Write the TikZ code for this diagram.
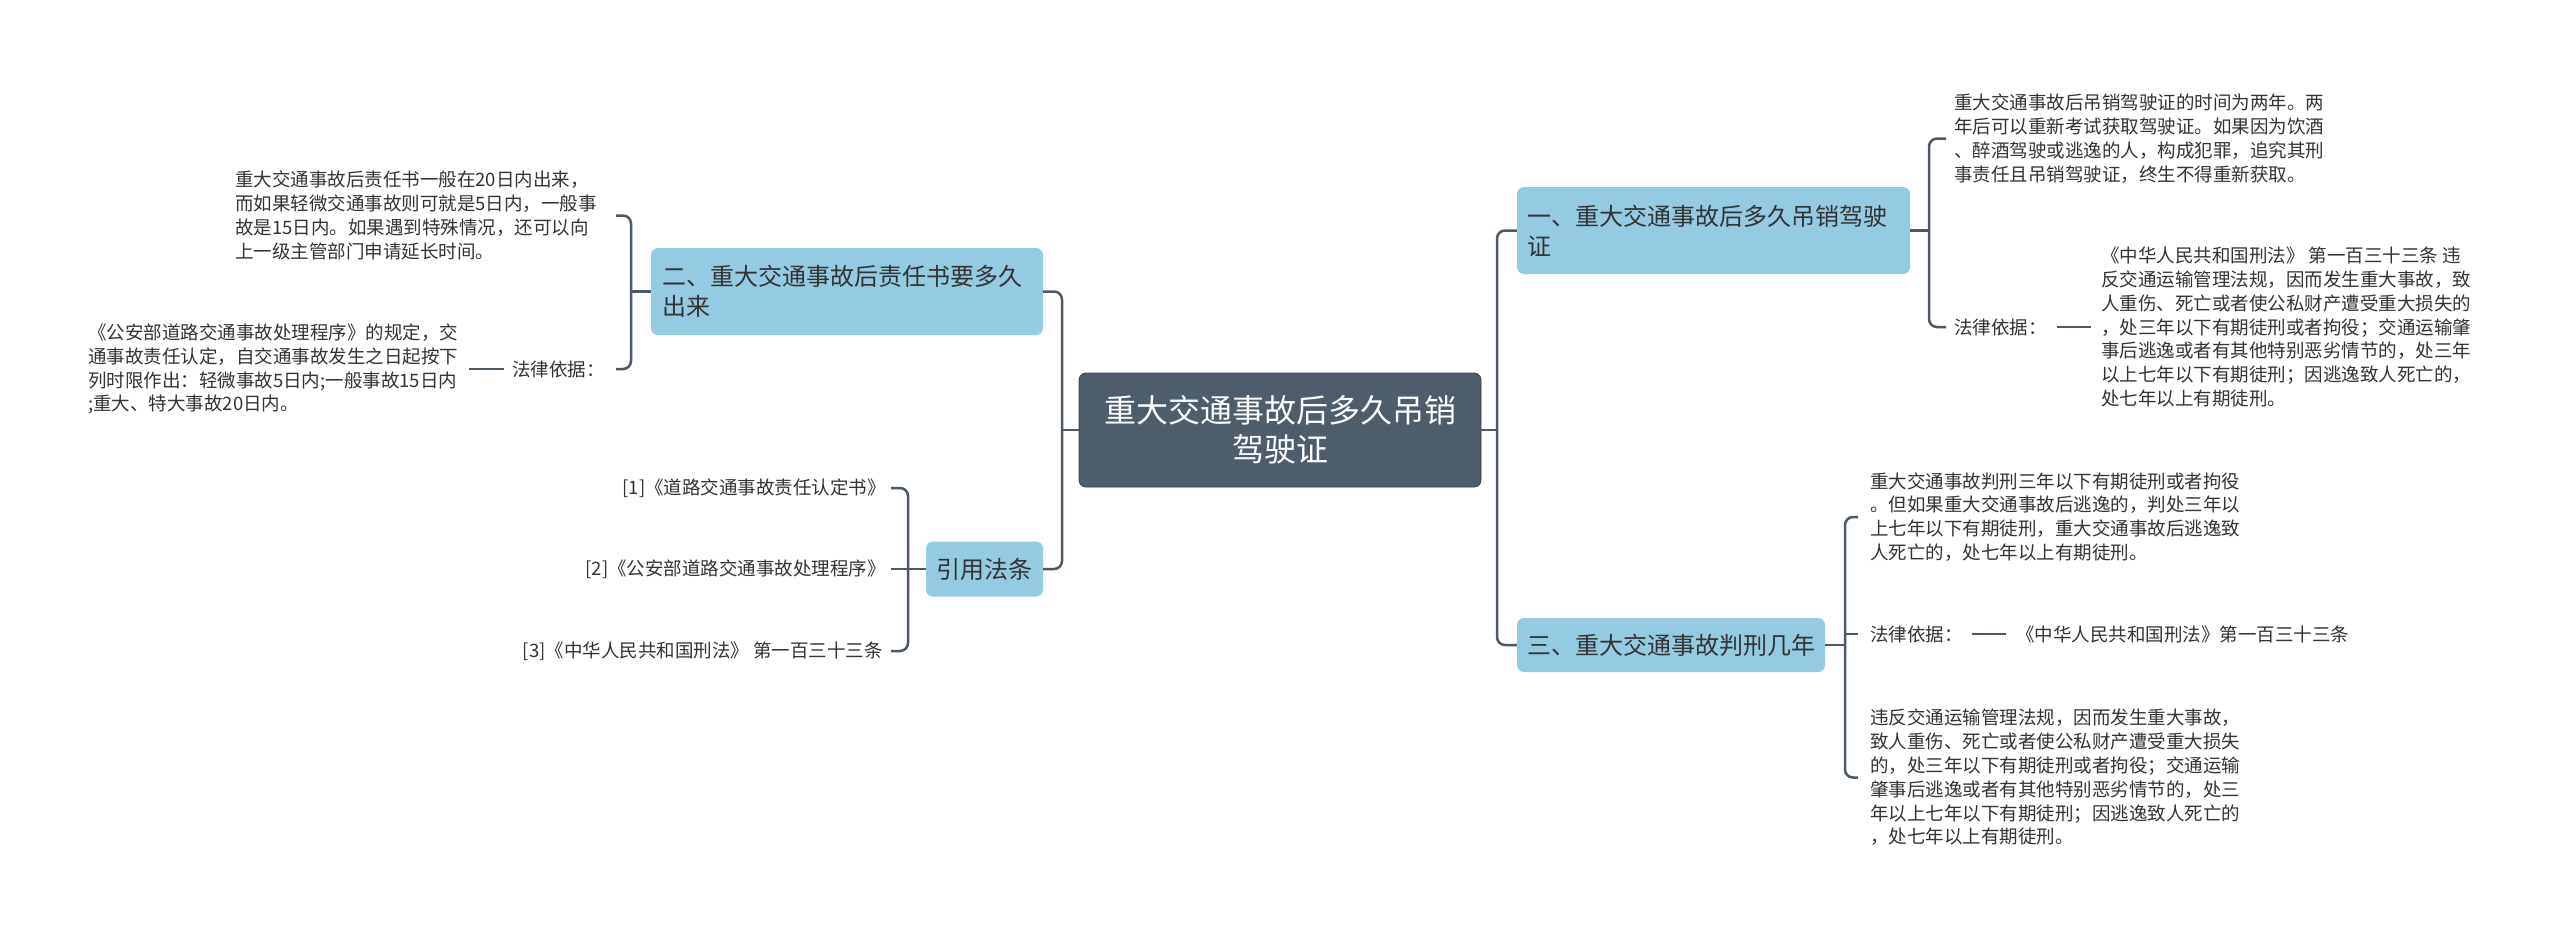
\documentclass[tikz,border=0pt]{standalone}
\usepackage{fontspec}
\newfontfamily\cjk{Noto Sans CJK SC}
\usetikzlibrary{calc}
\definecolor{linec}{HTML}{4B5968}
\definecolor{topicc}{HTML}{94CAE2}
\definecolor{rootc}{HTML}{4D5D6C}
\definecolor{leaftxt}{HTML}{333333}
\begin{document}
\begin{tikzpicture}[x=1pt,y=1pt,
 conn/.style={draw=linec,line width=2.5pt,rounded corners=8pt},
 straight/.style={draw=linec,line width=2.5pt},
 rootnode/.style={fill=rootc,draw=rootc!70!black,line width=0.8pt,rounded corners=7pt,text=white,font=\cjk\fontsize{32}{39}\selectfont,align=center,minimum width=402pt,minimum height=114pt,inner sep=0pt},
 topic/.style={fill=topicc,rounded corners=7pt,text=leaftxt,font=\cjk\fontsize{24}{30}\selectfont,inner xsep=11pt,inner ysep=0pt},
 leaf/.style={text=leaftxt,font=\cjk\fontsize{18.5}{23.8}\selectfont,inner sep=0pt,align=left}
]
\useasboundingbox (0,0) rectangle (2560,-935);
\fill[white] (0,0) rectangle (2560,-935);

% coordinates for trunks and brackets
\coordinate (tL) at (1062,0);
\coordinate (tR) at (1497,0);
\coordinate (bL) at (631,0);
\coordinate (bLh) at (616,0);
\coordinate (bC) at (908,0);
\coordinate (bCh) at (891,0);
\coordinate (bA) at (1929,0);
\coordinate (bAh) at (1946,0);
\coordinate (bB) at (1845,0);
\coordinate (bBh) at (1858,0);

% main nodes
\node[rootnode] (c) at (1280,-430) {重大交通事故后多久吊销\\驾驶证};
\node[topic,minimum width=392pt,minimum height=87pt,text width=370pt,align=left] (n2) at (847,-291.5) {二、重大交通事故后责任书要多久\\出来};
\node[topic,minimum width=117pt,minimum height=55pt,inner xsep=0pt] (n4) at (984.5,-569) {引用法条};
\node[topic,minimum width=393pt,minimum height=87pt,text width=373pt,inner xsep=10pt,align=left] (n1) at (1713.5,-230.5) {一、重大交通事故后多久吊销驾驶\\证};
\node[topic,minimum width=308pt,minimum height=54pt,inner xsep=0pt] (n3) at (1671,-645) {三、重大交通事故判刑几年};

% left leaves
\node[leaf,anchor=west] (a1) at (235,-215.5) {重大交通事故后责任书一般在20日内出来，\\而如果轻微交通事故则可就是5日内，一般事\\故是15日内。如果遇到特殊情况，还可以向\\上一级主管部门申请延长时间。};
\node[leaf,anchor=west] (a2) at (512,-369) {法律依据：};
\node[leaf,anchor=west] (a3) at (88,-369) {《公安部道路交通事故处理程序》的规定，交\\通事故责任认定，自交通事故发生之日起按下\\列时限作出：轻微事故5日内;一般事故15日内\\;重大、特大事故20日内。};

\node[leaf,anchor=east] (r1) at (886,-488) {[1]《道路交通事故责任认定书》};
\node[leaf,anchor=east] (r2) at (886,-569) {[2]《公安部道路交通事故处理程序》};
\node[leaf,anchor=east] (r3) at (883,-651) {[3]《中华人民共和国刑法》 第一百三十三条};

% right leaves
\node[leaf,anchor=west] (b1) at (1954,-138.5) {重大交通事故后吊销驾驶证的时间为两年。两\\年后可以重新考试获取驾驶证。如果因为饮酒\\、醉酒驾驶或逃逸的人，构成犯罪，追究其刑\\事责任且吊销驾驶证，终生不得重新获取。};
\node[leaf,anchor=west] (b2) at (1954,-327) {法律依据：};
\node[leaf,anchor=west] (b3) at (2101,-327) {《中华人民共和国刑法》 第一百三十三条 违\\反交通运输管理法规，因而发生重大事故，致\\人重伤、死亡或者使公私财产遭受重大损失的\\，处三年以下有期徒刑或者拘役；交通运输肇\\事后逃逸或者有其他特别恶劣情节的，处三年\\以上七年以下有期徒刑；因逃逸致人死亡的，\\处七年以上有期徒刑。};

\node[leaf,anchor=west] (d1) at (1870,-517) {重大交通事故判刑三年以下有期徒刑或者拘役\\。但如果重大交通事故后逃逸的，判处三年以\\上七年以下有期徒刑，重大交通事故后逃逸致\\人死亡的，处七年以上有期徒刑。};
\node[leaf,anchor=west] (d2) at (1870,-634) {法律依据：};
\node[leaf,anchor=west] (d3) at (2016,-634) {《中华人民共和国刑法》第一百三十三条};
\node[leaf,anchor=west] (d4) at (1870,-777.5) {违反交通运输管理法规，因而发生重大事故，\\致人重伤、死亡或者使公私财产遭受重大损失\\的，处三年以下有期徒刑或者拘役；交通运输\\肇事后逃逸或者有其他特别恶劣情节的，处三\\年以上七年以下有期徒刑；因逃逸致人死亡的\\，处七年以上有期徒刑。};

% trunks
\draw[straight] (c.west) -- (c.west -| tL);
\draw[conn] (n2.east) -- (n2.east -| tL) -- (n4.east -| tL) -- (n4.east);
\draw[straight] (c.east) -- (c.east -| tR);
\draw[conn] (n1.west) -- (n1.west -| tR) -- (n3.west -| tR) -- (n3.west);

% left brackets
\draw[straight] (n2.west) -- (n2.west -| bL);
\draw[conn] (a1.east -| bLh) -- (a1.east -| bL) -- (a2.east -| bL) -- (a2.east -| bLh);
\draw[straight] ($(a3.east)+(11,0)$) -- ($(a2.west)+(-8,0)$);

\draw[conn] (r1.east -| bCh) -- (r1.east -| bC) -- (r3.east -| bC) -- (r3.east -| bCh);
\draw[straight] (r2.east -| bCh) -- (n4.west);

% right brackets
\draw[straight] (n1.east) -- (n1.east -| bA);
\draw[conn] (b1.west -| bAh) -- (b1.west -| bA) -- (b2.west -| bA) -- (b2.west -| bAh);
\draw[straight] ($(b2.east)+(10,0)$) -- ($(b3.west)+(-10,0)$);

\draw[straight] (n3.east) -- (n3.east -| bB);
\draw[conn] (d1.west -| bBh) -- (d1.west -| bB) -- (d4.west -| bB) -- (d4.west -| bBh);
\draw[straight] (d2.west -| bB) -- (d2.west -| bBh);
\draw[straight] ($(d2.east)+(9,0)$) -- ($(d3.west)+(-10,0)$);
\end{tikzpicture}
\end{document}
